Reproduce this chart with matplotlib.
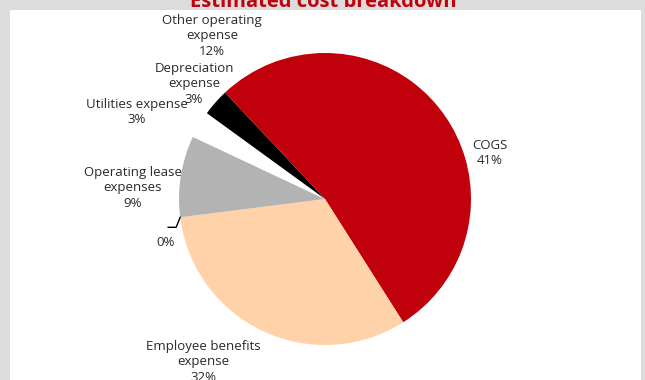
import matplotlib
matplotlib.use("Agg")
import matplotlib.pyplot as plt
import matplotlib.patches as mpatches
import numpy as np

categories = ["COGS", "Employee benefits\nexpense", "", "Operating lease\nexpenses",
              "Utilities expense", "Depreciation\nexpense", "Other operating\nexpense"]
values = [41, 32, 0, 9, 3, 3, 12]
pct_labels = ["41%", "32%", "0%", "9%", "3%", "3%", "12%"]
colors = ["#C0000B", "#FFD2A9", "#FFFFFF", "#B3B3B3", "#FFFFFF", "#000000", "#C0000B"]
title = "Estimated cost breakdown"

W, H = 645, 380
fig = plt.figure(figsize=(W / 100, H / 100), dpi=100)
fig.patch.set_facecolor("#DCDCDC")
ax = fig.add_axes([0, 0, 1, 1])

# white panel
ax.add_patch(mpatches.Rectangle((10, 0), 631, 370, facecolor="white", edgecolor="none", zorder=0))

cx, cy, r = 325, 181, 146
wedges, _ = ax.pie(values, colors=colors, startangle=90, counterclock=False,
                   center=(cx, cy), radius=r, frame=True,
                   wedgeprops=dict(linewidth=0, antialiased=True))
ax.set_xlim(0, W)
ax.set_ylim(0, H)
ax.set_aspect("equal")
ax.axis("off")

fam = ["Open Sans", "DejaVu Sans"]
txt_color = "#2a2a2a"
fs = 9.5

# label anchor positions (layout, image coords y-down)
label_pos = [(490, 153), (203, 362), (166, 242), (133, 188), (137, 112), (194, 84), (212, 36)]
for i, (cat, p) in enumerate(zip(categories, pct_labels)):
    x, y = label_pos[i]
    s = (cat + "\n" + p) if cat else p
    ax.text(x, H - y, s, ha="center", va="center", fontsize=fs, family=fam,
            color=txt_color, linespacing=1.22, zorder=5)

# leader line for the 0% slice
w0 = wedges[2]
ang = np.deg2rad((w0.theta1 + w0.theta2) / 2)
px, py = cx + r * np.cos(ang), cy + r * np.sin(ang)
ax.plot([px, px - 4, px - 12], [py, py - 10, py - 10], color="black", lw=1, zorder=4)

ax.text(323, H - 7, title, ha="center", va="baseline", fontsize=14.5, fontweight="bold",
        family=fam, color="#C0000B", zorder=5)

fig.savefig("out.png", dpi=100, facecolor=fig.get_facecolor())
